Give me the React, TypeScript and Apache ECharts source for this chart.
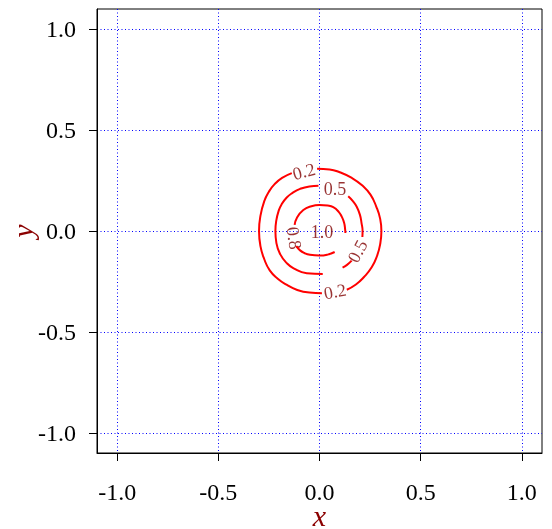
import React, { useEffect, useRef } from "react";
import * as echarts from "echarts";

// Axis ticks
const tickValues = [-1.0, -0.5, 0.0, 0.5, 1.0];
const tickLabels = ["-1.0", "-0.5", "0.0", "0.5", "1.0"];

// Contour level 0.2 (two arcs, broken by labels)
const level02ArcA: [number, number][] = [
  [-0.012, 0.308], [0.05, 0.305], [0.1, 0.291], [0.16, 0.263], [0.212, 0.225],
  [0.252, 0.18], [0.281, 0.12], [0.3, 0.06], [0.306, 0.0], [0.3, -0.065],
  [0.284, -0.125], [0.258, -0.18], [0.22, -0.228], [0.18, -0.265], [0.135, -0.291],
];
const level02ArcB: [number, number][] = [
  [0.012, -0.308], [-0.05, -0.305], [-0.11, -0.292], [-0.163, -0.266], [-0.208, -0.235],
  [-0.246, -0.195], [-0.273, -0.14], [-0.292, -0.075], [-0.299, 0.0], [-0.292, 0.075],
  [-0.273, 0.148], [-0.25, 0.195], [-0.222, 0.232], [-0.185, 0.263], [-0.137, 0.287],
];

// Contour level 0.5
const level05ArcA: [number, number][] = [
  [-0.005, 0.224], [-0.05, 0.221], [-0.096, 0.209], [-0.135, 0.188], [-0.162, 0.166],
  [-0.187, 0.133], [-0.202, 0.1], [-0.214, 0.05], [-0.218, 0.0], [-0.213, -0.06],
  [-0.193, -0.117], [-0.163, -0.158], [-0.128, -0.185], [-0.063, -0.209], [0.016, -0.213],
];
const level05ArcB: [number, number][] = [
  [0.142, 0.172], [0.165, 0.148], [0.184, 0.12], [0.2, 0.08], [0.208, 0.038],
  [0.213, 0.0], [0.212, -0.03],
];
const level05ArcC: [number, number][] = [
  [0.159, -0.147], [0.136, -0.168], [0.114, -0.182],
];

// Contour level 0.8
const level08ArcA: [number, number][] = [
  [-0.123, 0.03], [-0.112, 0.065], [-0.08, 0.104], [-0.04, 0.123], [0.0, 0.129],
  [0.04, 0.126], [0.068, 0.118], [0.095, 0.095], [0.11, 0.071], [0.122, 0.04],
  [0.127, 0.005], [0.128, -0.01],
];
const level08ArcB: [number, number][] = [
  [-0.115, -0.075], [-0.096, -0.096], [-0.075, -0.109], [-0.047, -0.118], [0.0, -0.122],
  [0.04, -0.117], [0.075, -0.104],
];

// Contour labels
const labelTexts = ["0.2", "0.2", "0.5", "0.5", "0.8", "1.0"];
const labelX = [-0.077, 0.077, 0.077, 0.188, -0.126, 0.012];
const labelY = [0.295, -0.3, 0.208, -0.1, -0.035, -0.007];
const labelAngle = [15, 10, 0, 62, -82, 0];

const contourArcs = [
  level02ArcA, level02ArcB, level05ArcA, level05ArcB, level05ArcC, level08ArcA, level08ArcB,
];

const SERIF = "Liberation Serif";

function fmtTick(v: number): string {
  const i = tickValues.findIndex((t) => Math.abs(t - v) < 1e-9);
  return i >= 0 ? tickLabels[i] : v.toFixed(1);
}

export default function App() {
  const ref = useRef<HTMLDivElement>(null);
  useEffect(() => {
    if (!ref.current) return;
    const chart = echarts.init(ref.current, undefined, { renderer: "svg" });
    const axisCommon = {
      type: "value" as const,
      min: -1.1,
      max: 1.1,
      axisLine: { show: true, onZero: false, lineStyle: { color: "#000", width: 1 } },
      axisTick: {
        show: true,
        inside: false,
        length: 8,
        customValues: tickValues,
        lineStyle: { color: "#000", width: 1 },
      },
      splitLine: {
        show: true,
        lineStyle: { color: "#0000ff", width: 1, type: [1, 2.5] },
      },
      nameLocation: "middle" as const,
      nameMoveOverlap: false,
      nameTextStyle: {
        fontFamily: SERIF,
        fontStyle: "italic",
        fontSize: 30,
        lineHeight: 22,
        color: "#8b0000",
      },
    };
    chart.setOption({
      animation: false,
      grid: {
        left: 97,
        top: 9,
        width: 445,
        height: 444,
        show: true,
        borderColor: "#000",
        borderWidth: 1,
        backgroundColor: "transparent",
        containLabel: false,
        outerBoundsMode: "none",
      },
      xAxis: {
        ...axisCommon,
        name: "x",
        nameGap: 51,
        axisLabel: {
          customValues: tickValues,
          formatter: fmtTick,
          margin: 27,
          fontFamily: SERIF,
          fontSize: 24,
          color: "#000",
        },
      },
      yAxis: {
        ...axisCommon,
        name: "y",
        nameGap: 64,
        axisLabel: {
          customValues: tickValues,
          formatter: fmtTick,
          margin: 21,
          fontFamily: SERIF,
          fontSize: 24,
          color: "#000",
        },
      },
      series: [
        ...contourArcs.map((arc) => ({
          type: "line",
          data: arc,
          smooth: true,
          showSymbol: false,
          silent: true,
          lineStyle: { color: "#ff0000", width: 2 },
        })),
        {
          type: "scatter",
          symbolSize: 0,
          silent: true,
          data: labelTexts.map((t, i) => ({
            name: t,
            value: [labelX[i], labelY[i]],
            label: { rotate: labelAngle[i] },
          })),
          label: {
            show: true,
            position: "inside",
            formatter: (p: any) => p.name,
            fontFamily: SERIF,
            fontSize: 18,
            color: "#800000",
          },
        },
      ],
    });
    return () => chart.dispose();
  }, []);
  return (
    <div
      ref={ref}
      style={{ position: "fixed", left: 0, top: 0, width: 552, height: 529 }}
    />
  );
}
